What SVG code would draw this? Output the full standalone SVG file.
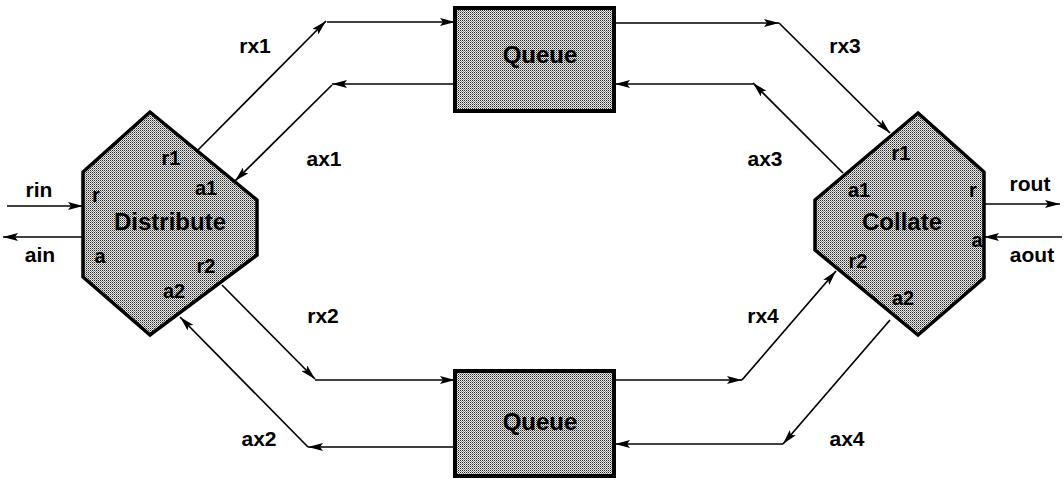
<svg xmlns="http://www.w3.org/2000/svg" width="1064" height="478" viewBox="0 0 1064 478">
<style>
.shape{fill:url(#stipple);stroke:#000;stroke-width:3.5;stroke-linejoin:miter}
.box{fill:url(#stipple);stroke:#000;stroke-width:4}
.conn{fill:none;stroke:#000;stroke-width:1.7;marker-end:url(#ah)}
.lbl{font-family:"Liberation Sans",Arial,sans-serif;font-weight:bold;font-size:21px;fill:#000;text-anchor:middle}
.port{font-family:"Liberation Sans",Arial,sans-serif;font-weight:bold;font-size:20px;fill:#000;text-anchor:middle}
.name{font-family:"Liberation Sans",Arial,sans-serif;font-weight:bold;font-size:24px;fill:#000;text-anchor:middle}
</style>
<defs>
<pattern id="stipple" width="2" height="2" patternUnits="userSpaceOnUse">
<rect width="2" height="2" fill="#eeeeee"/>
<rect x="0" y="0" width="1" height="1" fill="#222"/>
<rect x="1" y="1" width="1" height="1" fill="#888"/>
</pattern>
<marker id="ah" markerWidth="15" markerHeight="8" refX="15" refY="4" orient="auto" markerUnits="userSpaceOnUse">
<path d="M0,0 L15,4 L0,8 L3,4 Z" fill="#000"/>
</marker>
</defs>
<rect width="1064" height="478" fill="#fff"/>

<g id="connectors">
<path class="conn" d="M198,150 L326,21"/>
<path class="conn" d="M327,22 L455,22"/>
<path class="conn" d="M455,84 L332,84"/>
<path class="conn" d="M332,85 L235,181"/>
<path class="conn" d="M615,23 L779,23"/>
<path class="conn" d="M779,23 L890,133"/>
<path class="conn" d="M843,173 L753,83"/>
<path class="conn" d="M753,84 L615,84"/>
<path class="conn" d="M222,285 L315,379"/>
<path class="conn" d="M315,380 L455,380"/>
<path class="conn" d="M455,447 L308,447"/>
<path class="conn" d="M308,447 L180,317"/>
<path class="conn" d="M615,380 L742,380"/>
<path class="conn" d="M742,380 L836,271"/>
<path class="conn" d="M890,320 L783,444"/>
<path class="conn" d="M783,444 L615,444"/>
<path class="conn" d="M7,206 L83,206"/>
<path class="conn" d="M83,237 L3,237"/>
<path class="conn" d="M984,204 L1060,204"/>
<path class="conn" d="M1062,237 L984,237"/>
<text class="lbl" x="39" y="197">rin</text>
<text class="lbl" x="40" y="262">ain</text>
<text class="lbl" x="1030" y="191">rout</text>
<text class="lbl" x="1032" y="262">aout</text>
<text class="lbl" x="255" y="53">rx1</text>
<text class="lbl" x="324" y="166">ax1</text>
<text class="lbl" x="845" y="53">rx3</text>
<text class="lbl" x="765" y="166">ax3</text>
<text class="lbl" x="323" y="323">rx2</text>
<text class="lbl" x="259" y="446">ax2</text>
<text class="lbl" x="763" y="323">rx4</text>
<text class="lbl" x="847" y="446">ax4</text>
</g>

<g id="distribute">
<polygon class="shape" points="150,112 257,200 257,255 150,335 83,277 83,172"/>
<text class="name" x="170" y="230">Distribute</text>
<text class="port" x="171" y="165">r1</text>
<text class="port" x="206" y="195">a1</text>
<text class="port" x="96" y="202">r</text>
<text class="port" x="100" y="263">a</text>
<text class="port" x="206" y="273">r2</text>
<text class="port" x="174" y="298">a2</text>
</g>

<g id="collate">
<polygon class="shape" points="918,113 984,172 984,278 918,335 815,250 815,200"/>
<text class="name" x="902" y="230">Collate</text>
<text class="port" x="901" y="160">r1</text>
<text class="port" x="859" y="197">a1</text>
<text class="port" x="973" y="197">r</text>
<text class="port" x="977" y="247">a</text>
<text class="port" x="858" y="268">r2</text>
<text class="port" x="903" y="305">a2</text>
</g>

<g id="queue1">
<rect class="box" x="455" y="8" width="159" height="103"/>
<text class="name" x="540" y="63">Queue</text>
</g>

<g id="queue2">
<rect class="box" x="455" y="371" width="159" height="105"/>
<text class="name" x="540" y="430">Queue</text>
</g>
</svg>
